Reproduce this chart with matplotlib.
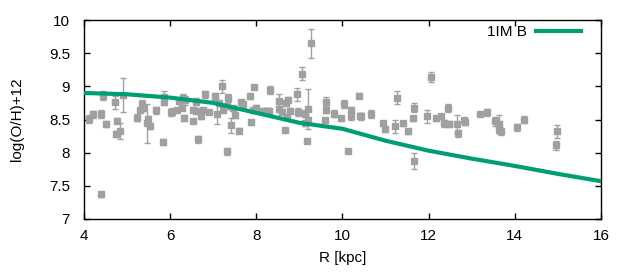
import matplotlib
matplotlib.use("Agg")
import matplotlib.pyplot as plt
import numpy as np

plt.rcParams['font.family'] = ['Liberation Sans', 'DejaVu Sans']

# Observational data (R [kpc], log(O/H)+12, error)
r_obs = [4.12, 4.22, 4.40, 4.45, 4.50, 4.40, 4.73, 4.77, 4.75, 4.84, 4.91,
         5.24, 5.31, 5.35, 5.38, 5.47, 5.49, 5.54, 5.66, 5.84, 5.86, 5.86, 6.03,
         6.04, 6.15, 6.21, 6.29, 6.27, 6.34, 6.31, 6.52, 6.54, 6.60, 6.59, 6.65,
         6.71, 6.77, 6.82, 6.91, 7.05, 7.09, 7.14, 7.21, 7.22, 7.33, 7.35, 7.33,
         7.42, 7.47, 7.51, 7.60, 7.65, 7.70, 7.86, 7.88, 7.93, 7.95, 7.99,
         8.15, 8.22, 8.29, 8.32, 8.53, 8.53, 8.59, 8.67, 8.68, 8.74, 8.77, 8.71,
         8.95, 8.97, 9.07, 9.14, 9.21, 9.19, 9.18, 9.28, 9.14, 9.62, 9.62, 9.60,
         9.81, 9.97, 10.04,
         10.13, 10.20, 10.20, 10.39, 10.41, 10.44, 10.67, 10.95, 10.99, 11.23,
         11.27, 11.41, 11.53, 11.64, 11.67, 11.67, 11.95, 12.06,
         12.18, 12.29, 12.36, 12.46, 12.48, 12.65, 12.69, 12.83, 12.85, 13.18,
         13.36, 13.55, 13.64, 13.64, 13.69, 14.04, 14.22, 14.99, 14.96]
oh_obs = [8.51, 8.58, 8.58, 8.86, 8.43, 7.37, 8.76, 8.48, 8.28, 8.33, 8.87,
          8.53, 8.64, 8.73, 8.67, 8.44, 8.51, 8.40, 8.64, 8.16, 8.84, 8.76, 8.61,
          8.62, 8.64, 8.78, 8.83, 8.68, 8.79, 8.52, 8.48, 8.65, 8.77, 8.63, 8.20,
          8.55, 8.64, 8.88, 8.61, 8.85, 8.58, 8.75, 9.00, 8.65, 8.70, 8.82, 8.02,
          8.41, 8.67, 8.57, 8.33, 8.76, 8.73, 8.85, 8.46, 8.64, 8.99, 8.68,
          8.63, 8.63, 8.63, 8.94, 8.78, 8.66, 8.62, 8.34, 8.75, 8.80, 8.63, 8.54,
          8.88, 8.61, 9.19, 8.59, 8.66, 8.50, 8.18, 9.65, 8.44, 8.76, 8.65, 8.49,
          8.59, 8.52, 8.74,
          8.02, 8.64, 8.55, 8.86, 8.56, 8.55, 8.58, 8.44, 8.35, 8.40,
          8.83, 8.44, 8.32, 8.52, 8.68, 7.87, 8.55, 9.14,
          8.52, 8.56, 8.44, 8.67, 8.43, 8.43, 8.29, 8.49, 8.46, 8.59,
          8.61, 8.47, 8.43, 8.35, 8.32, 8.38, 8.50, 8.32, 8.11]
oh_err = [0.06, 0.05, 0.06, 0.07, 0.05, 0.04, 0.10, 0.04, 0.05, 0.12, 0.25,
          0.05, 0.04, 0.06, 0.04, 0.29, 0.04, 0.05, 0.05, 0.04, 0.09, 0.04, 0.05,
          0.05, 0.03, 0.04, 0.05, 0.04, 0.07, 0.05, 0.03, 0.04, 0.05, 0.04, 0.05,
          0.04, 0.04, 0.05, 0.03, 0.05, 0.15, 0.04, 0.10, 0.04, 0.04, 0.06, 0.05,
          0.12, 0.04, 0.04, 0.04, 0.04, 0.05, 0.04, 0.04, 0.04, 0.03, 0.04,
          0.04, 0.04, 0.04, 0.06, 0.10, 0.04, 0.04, 0.03, 0.04, 0.04, 0.04, 0.04,
          0.10, 0.06, 0.10, 0.05, 0.30, 0.04, 0.03, 0.22, 0.04, 0.08, 0.05, 0.04,
          0.05, 0.04, 0.06,
          0.03, 0.05, 0.05, 0.04, 0.04, 0.05, 0.06, 0.03, 0.04, 0.10,
          0.10, 0.04, 0.04, 0.04, 0.07, 0.12, 0.10, 0.07,
          0.04, 0.03, 0.05, 0.06, 0.04, 0.14, 0.05, 0.04, 0.04, 0.02,
          0.05, 0.07, 0.14, 0.06, 0.05, 0.05, 0.05, 0.10, 0.07]

# Model gradient 1IM B
r_model = [4, 5, 6, 7, 8, 9, 10, 11, 12, 13, 14, 15, 16]
oh_model = [8.90, 8.88, 8.83, 8.75, 8.60, 8.45, 8.36, 8.18, 8.03, 7.91, 7.80, 7.68, 7.57]

fig = plt.figure(figsize=(6.3, 2.8), dpi=100)
ax = fig.add_axes([84/630, 1-219/280, (601-84)/630, (219-20)/280])

ax.errorbar(r_obs, oh_obs, yerr=oh_err, fmt='s', color='#a0a0a0', ecolor='#a0a0a0',
            markersize=4.4, elinewidth=1.0, capsize=2.2, capthick=1.0, zorder=2)
ax.plot(r_model, oh_model, color='#009e73', lw=3.0, label='1IM B', zorder=3)

ax.set_xlim(4, 16)
ax.set_ylim(7, 10)
ax.set_xticks([4, 6, 8, 10, 12, 14, 16])
ax.set_xticklabels(['4', '6', '8', '10', '12', '14', '16'])
ax.set_yticks([7, 7.5, 8, 8.5, 9, 9.5, 10])
ax.set_yticklabels(['7', '7.5', '8', '8.5', '9', '9.5', '10'])
ax.tick_params(axis='x', pad=7)
ax.tick_params(axis='y', pad=10)
ax.tick_params(direction='in', top=True, right=True, length=4, width=1,
               labelsize=11, colors='black')
for s in ax.spines.values():
    s.set_linewidth(1.0)
ax.set_xlabel('R [kpc]', fontsize=11, labelpad=6)
ax.set_ylabel('log(O/H)+12', fontsize=11, labelpad=18)

leg = ax.legend(loc='center right', bbox_to_anchor=(1 - 20/517, 1 - 12/199),
                frameon=False, markerfirst=False, borderaxespad=0, borderpad=0,
                handlelength=2.95, fontsize=11, handletextpad=0.6)

fig.savefig('out.png', dpi=100)
